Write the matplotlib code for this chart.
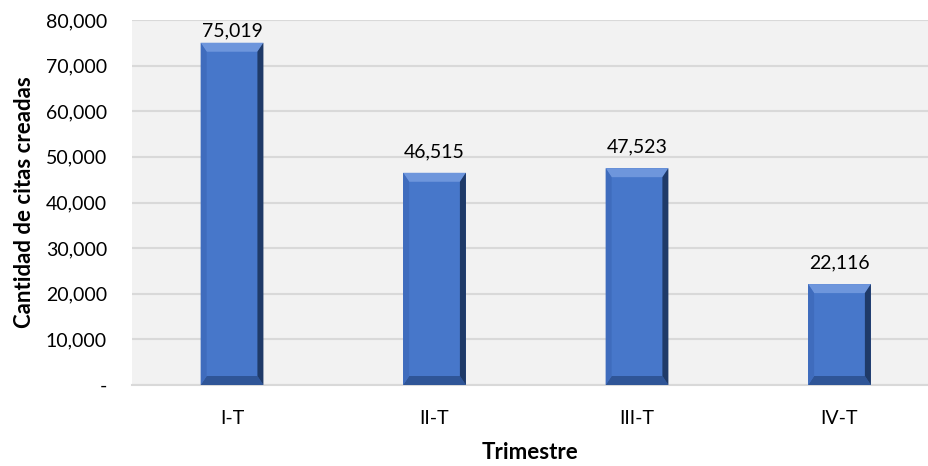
import matplotlib
matplotlib.use("Agg")
import matplotlib.pyplot as plt
from matplotlib.patches import Polygon
from matplotlib.ticker import FuncFormatter

# Data
trimestres = ["I-T", "II-T", "III-T", "IV-T"]
citas = [75019, 46515, 47523, 22116]

plt.rcParams['font.family'] = ['Lato', 'DejaVu Sans']

fig = plt.figure(figsize=(9.29, 4.66), dpi=100)
ax = fig.add_axes([132 / 929, 81 / 466, 797 / 929, 365 / 466])
ax.set_facecolor("#F2F2F2")

x = list(range(len(trimestres)))
width = 0.31
ax.bar(x, citas, width=width, color="#4777CA", zorder=3)

ymax = 80000
ax.set_xlim(-0.494, 3.442)
ax.set_ylim(0, ymax)

# bevel effect (sizes in pixels converted to data units)
px_x = (3.442 + 0.494) / 797
px_y = ymax / 365
bx, by = 6 * px_x, 9 * px_y
for xi, v in zip(x, citas):
    l, r = xi - width / 2, xi + width / 2
    # top bevel
    ax.add_patch(Polygon([(l, v), (r, v), (r - bx, v - by), (l + bx, v - by)],
                         color="#6E96DC", zorder=4, lw=0))
    # bottom bevel
    ax.add_patch(Polygon([(l, 0), (r, 0), (r - bx, by), (l + bx, by)],
                         color="#2F5597", zorder=4, lw=0))
    # left bevel
    ax.add_patch(Polygon([(l, 0), (l + bx, by), (l + bx, v - by), (l, v)],
                         color="#3F6CBD", zorder=4, lw=0))
    # right bevel (dark)
    ax.add_patch(Polygon([(r, 0), (r - bx, by), (r - bx, v - by), (r, v)],
                         color="#1F3A68", zorder=4, lw=0))
    # labels, kept inside the plot area like Excel does
    if v + 36 * px_y > ymax:
        ax.annotate(f"{v:,}", (xi, ymax), xytext=(0, -2), textcoords="offset points",
                    ha="center", va="top", fontsize=14, color="#000000", zorder=5)
    else:
        ax.annotate(f"{v:,}", (xi, v), xytext=(0, 9), textcoords="offset points",
                    ha="center", va="bottom", fontsize=14, color="#000000", zorder=5)

ax.set_xticks(x)
ax.set_xticklabels(trimestres, fontsize=14)
ax.set_yticks(range(0, 80001, 10000))
ax.yaxis.set_major_formatter(FuncFormatter(lambda v, p: "-" if v == 0 else f"{int(v):,}"))
ax.tick_params(axis="y", labelsize=14, length=0, pad=18)
ax.tick_params(axis="x", length=0, pad=18)

ax.grid(axis="y", color="#D9D9D9", linewidth=1.5, zorder=0)
for s in ["top", "right", "left"]:
    ax.spines[s].set_visible(False)
ax.spines["bottom"].set_color("#D9D9D9")
ax.spines["bottom"].set_linewidth(1.5)

ax.set_ylabel("Cantidad de citas creadas", fontsize=16, fontweight="bold", labelpad=8)
ax.set_xlabel("Trimestre", fontsize=16, fontweight="bold", labelpad=11)

fig.savefig("out.png", dpi=100)
